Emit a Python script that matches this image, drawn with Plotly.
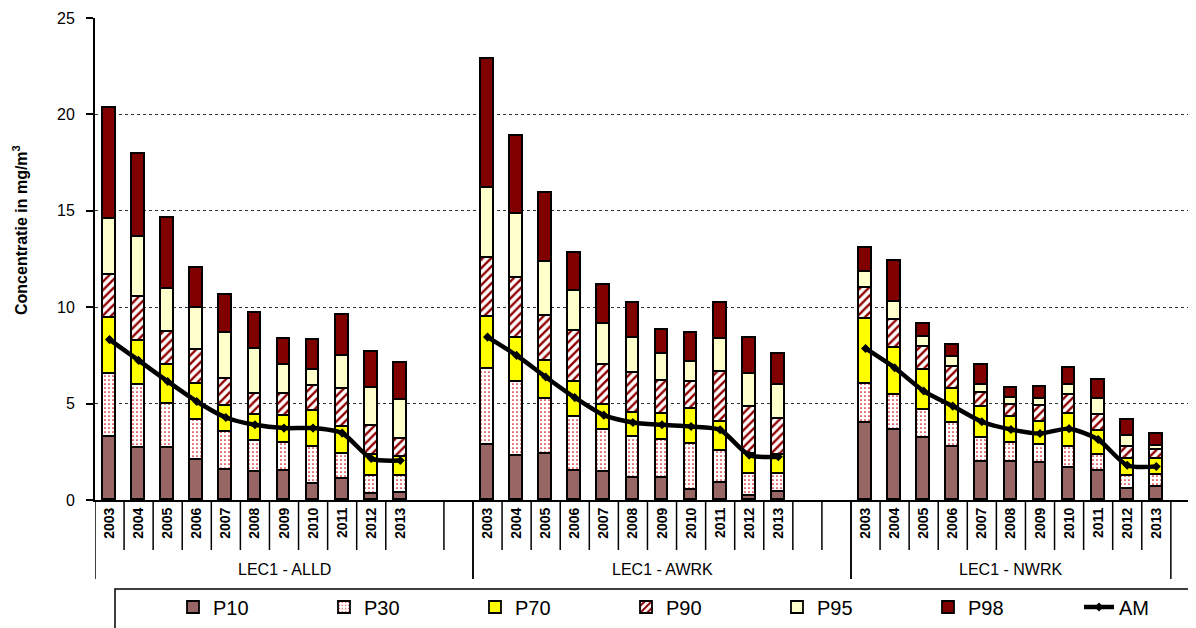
import plotly.graph_objects as go

# ---------------- data ----------------
stations = ["LEC1 - ALLD", "LEC1 - AWRK", "LEC1 - NWRK"]
years = ["2003", "2004", "2005", "2006", "2007", "2008", "2009", "2010", "2011", "2012", "2013"]

# percentile values (mg/m3), per station, 2003..2013
P10_ALLD = [3.29, 2.69, 2.69, 2.08, 1.56, 1.44, 1.49, 0.81, 1.07, 0.29, 0.38]
P30_ALLD = [6.53, 5.94, 4.99, 4.14, 3.52, 3.08, 2.96, 2.77, 2.41, 1.25, 1.25]
P70_ALLD = [9.43, 8.27, 7.02, 6.00, 4.87, 4.40, 4.35, 4.61, 3.81, 2.34, 2.25]
P90_ALLD = [11.66, 10.54, 8.73, 7.76, 6.26, 5.51, 5.51, 5.89, 5.75, 3.83, 3.15]
P95_ALLD = [14.58, 13.66, 10.95, 9.97, 8.65, 7.82, 6.98, 6.74, 7.47, 5.82, 5.18]
P98_ALLD = [20.33, 17.97, 14.63, 12.03, 10.62, 9.69, 8.34, 8.28, 9.62, 7.69, 7.12]
AM_ALLD = [8.32, 7.24, 6.15, 5.11, 4.28, 3.90, 3.73, 3.73, 3.47, 2.15, 2.05]

P10_AWRK = [2.83, 2.29, 2.38, 1.48, 1.45, 1.12, 1.16, 0.50, 0.90, 0.22, 0.40]
P30_AWRK = [6.81, 6.14, 5.24, 4.31, 3.62, 3.28, 3.09, 2.91, 2.52, 1.36, 1.36]
P70_AWRK = [9.50, 8.41, 7.22, 6.14, 4.95, 4.53, 4.48, 4.74, 4.07, 2.38, 2.34]
P90_AWRK = [12.55, 11.50, 9.53, 8.74, 7.02, 6.59, 6.19, 6.14, 6.62, 4.84, 4.19]
P95_AWRK = [16.16, 14.86, 12.36, 10.86, 9.14, 8.41, 7.59, 7.14, 8.33, 6.52, 5.98]
P98_AWRK = [22.88, 18.90, 15.93, 12.79, 11.14, 10.24, 8.81, 8.67, 10.24, 8.41, 7.59]
AM_AWRK = [8.45, 7.50, 6.38, 5.31, 4.40, 4.02, 3.90, 3.81, 3.64, 2.33, 2.24]

P10_NWRK = [4.01, 3.64, 3.20, 2.73, 1.99, 1.99, 1.93, 1.64, 1.52, 0.55, 0.69]
P30_NWRK = [6.04, 5.47, 4.65, 3.97, 3.23, 2.94, 2.83, 2.76, 2.33, 1.23, 1.28]
P70_NWRK = [9.40, 7.91, 6.75, 5.77, 4.84, 4.28, 4.04, 4.44, 3.56, 2.14, 2.14]
P90_NWRK = [10.98, 9.36, 7.93, 6.89, 5.56, 4.92, 4.85, 5.47, 4.42, 2.75, 2.57]
P95_NWRK = [11.83, 10.29, 8.43, 7.41, 5.96, 5.27, 5.22, 5.99, 5.22, 3.33, 2.80]
P98_NWRK = [13.06, 12.40, 9.12, 8.03, 6.99, 5.80, 5.86, 6.86, 6.22, 4.15, 3.42]
AM_NWRK = [7.86, 6.86, 5.65, 4.87, 4.06, 3.66, 3.45, 3.70, 3.14, 1.80, 1.74]

series_names = ["P10", "P30", "P70", "P90", "P95", "P98"]
percentiles = {
    "P10": [P10_ALLD, P10_AWRK, P10_NWRK],
    "P30": [P30_ALLD, P30_AWRK, P30_NWRK],
    "P70": [P70_ALLD, P70_AWRK, P70_NWRK],
    "P90": [P90_ALLD, P90_AWRK, P90_NWRK],
    "P95": [P95_ALLD, P95_AWRK, P95_NWRK],
    "P98": [P98_ALLD, P98_AWRK, P98_NWRK],
}
am = [AM_ALLD, AM_AWRK, AM_NWRK]
y_ticks = [0, 5, 10, 15, 20, 25]

# ---------------- layout constants ----------------
FONT = "Liberation Sans, Arial, sans-serif"
SLOTS_PER_GROUP = 13          # 11 years + 2 empty slots
OFF = 8                       # default page body margin
W, H = 1196 - OFF, 628 - OFF
PL, PR, PT, PB = 95, 1196, 18, 500   # plot area in page pixels
ML, MR, MT, MB = PL - OFF, 0, PT - OFF, H - (PB - OFF)
plot_w = PR - PL
plot_h = PB - PT
slot_px = 378 / 13.0
x_max = -0.5 + plot_w / slot_px

def slot(g, i):
    return g * SLOTS_PER_GROUP + i

def paper_y(py):
    return (PB - py) / plot_h

def paper_x(px):
    return (px - PL) / plot_w

xs = [slot(g, i) for g in range(3) for i in range(len(years))]

def flat(lists):
    return [v for l in lists for v in l]

styles = {
    "P10": dict(color="#996666"),
    "P30": dict(color="white", pattern=dict(shape=".", fgcolor="#cc0000", bgcolor="white",
                                             size=4, solidity=0.14, fgopacity=1, fillmode="replace")),
    "P70": dict(color="#FFFF00"),
    "P90": dict(color="white", pattern=dict(shape="/", fgcolor="#8f0000", bgcolor="white",
                                             size=6, solidity=0.4, fgopacity=1, fillmode="replace")),
    "P95": dict(color="#FFFFCC"),
    "P98": dict(color="#800000"),
}

fig = go.Figure()
prev = None
for name in series_names:
    vals = flat(percentiles[name])
    seg = vals if prev is None else [v - p for v, p in zip(vals, prev)]
    st = styles[name]
    marker = dict(color=st["color"], line=dict(color="black", width=1.8))
    if "pattern" in st:
        marker["pattern"] = st["pattern"]
    fig.add_trace(go.Bar(x=xs, y=seg, name=name, marker=marker, width=0.44))
    prev = vals

# AM line, broken between stations
am_x, am_y = [], []
for g in range(3):
    for i in range(len(years)):
        am_x.append(slot(g, i))
        am_y.append(am[g][i])
    am_x.append(None)
    am_y.append(None)
fig.add_trace(go.Scatter(x=am_x, y=am_y, name="AM", mode="lines+markers",
                         line=dict(color="black", width=4.5, shape="spline", smoothing=0.7),
                         marker=dict(symbol="diamond", size=7, color="black"),
                         connectgaps=False))

# separators in the category label area
shapes = []
y_year = paper_y(550)
y_group = paper_y(579)
for g in range(3):
    n_slots = SLOTS_PER_GROUP if g < 2 else len(years)
    base = g * SLOTS_PER_GROUP
    for k in range(1, n_slots):
        if g == 0 and k == 11:
            continue
        shapes.append(dict(type="line", xref="x", yref="paper", x0=base + k - 0.5, x1=base + k - 0.5,
                           y0=0, y1=y_year, line=dict(color="black", width=1.5)))
    for k in (0, n_slots):
        shapes.append(dict(type="line", xref="x", yref="paper", x0=base + k - 0.5, x1=base + k - 0.5,
                           y0=0, y1=y_group, line=dict(color="black", width=1.5)))

# legend box
shapes.append(dict(type="rect", xref="paper", yref="paper",
                   x0=paper_x(115), x1=1.02, y0=paper_y(589), y1=paper_y(660),
                   line=dict(color="black", width=1.5), fillcolor="rgba(0,0,0,0)"))

annotations = []
for g, st in enumerate(stations):
    n_slots = SLOTS_PER_GROUP if g < 2 else len(years)
    cx = g * SLOTS_PER_GROUP - 0.5 + n_slots / 2.0
    annotations.append(dict(x=cx, y=paper_y(569), xref="x", yref="paper", text=st,
                            showarrow=False, font=dict(family=FONT, size=16, color="black"),
                            xanchor="center", yanchor="middle"))
annotations.append(dict(x=paper_x(20), y=paper_y(230), xref="paper", yref="paper",
                        text="<b>Concentratie in mg/m<sup>3</sup></b>", textangle=-90, showarrow=False,
                        font=dict(family=FONT, size=16, color="black"),
                        xanchor="center", yanchor="middle"))

fig.update_layout(
    width=W, height=H,
    margin=dict(l=ML, r=MR, t=MT, b=MB, autoexpand=False),
    paper_bgcolor="white", plot_bgcolor="white",
    barmode="stack", bargap=0,
    font=dict(family=FONT, color="black"),
    showlegend=True,
    legend=dict(orientation="h", x=paper_x(173), xanchor="left",
                y=paper_y(607), yanchor="middle",
                entrywidth=106, entrywidthmode="pixels", itemwidth=30,
                font=dict(family=FONT, size=20, color="black"),
                bgcolor="rgba(0,0,0,0)", traceorder="normal"),
    shapes=shapes,
    annotations=annotations,
)
fig.update_xaxes(range=[-0.5, x_max], tickmode="array",
                 tickvals=xs, ticktext=[y for _ in range(3) for y in years],
                 tickangle=-90, ticks="", showgrid=False, zeroline=False,
                 showline=True, linecolor="black", linewidth=2, automargin=False,
                 tickfont=dict(family=FONT, size=14, color="black", weight="bold"))
fig.update_yaxes(range=[0, 25], tickmode="array", tickvals=y_ticks,
                 showgrid=True, gridcolor="#333333", griddash="dot", gridwidth=1.3,
                 zeroline=False, showline=True, linecolor="black", linewidth=2,
                 ticks="outside", ticklen=7, tickcolor="black", tickwidth=1.5,
                 ticklabelstandoff=8, automargin=False,
                 tickfont=dict(family=FONT, size=16, color="black"))

fig.write_html("out.html")
